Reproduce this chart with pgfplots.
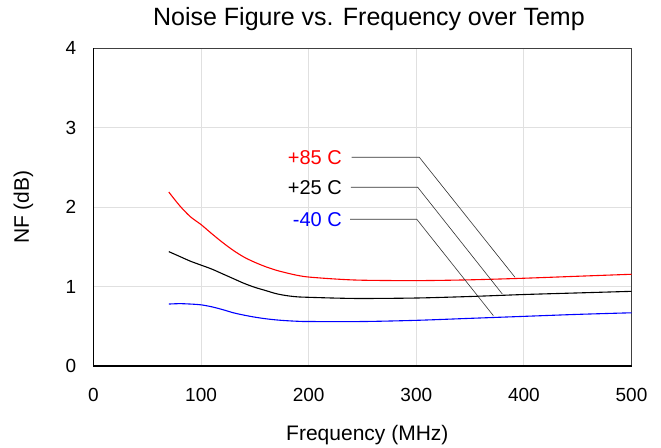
\documentclass[border=0pt]{standalone}
\usepackage{fontspec}
\setmainfont{Liberation Sans}
\usepackage{pgfplots}
\pgfplotsset{compat=1.18}
\begin{document}
\begin{tikzpicture}
\useasboundingbox (-93.5pt,-81pt) rectangle (567.5pt,366pt);
\begin{axis}[
 at={(0pt,0pt)}, anchor=south west,
 scale only axis, width=538pt, height=317.7pt,
 xmin=0,xmax=500,ymin=0,ymax=4,
 xtick={0,100,...,500}, ytick={0,1,2,3,4},
 major tick length=0pt,
 grid=major, major grid style={draw=black!12, line width=0.8pt},
 axis line style={draw=black!75, line width=1.5pt},
 tick label style={font=\fontsize{19}{22}\selectfont},
 /pgf/number format/assume math mode=true,
 xticklabel style={inner sep=0pt, anchor=north, yshift=-22pt},
 yticklabel style={inner sep=0pt, anchor=east, xshift=-17pt},
 xlabel={Frequency (MHz)},
 xlabel style={font=\fontsize{21}{24}\selectfont, at={(axis description cs:0.509,-0.217)}, anchor=center},
 ylabel={NF (dB)},
 ylabel style={font=\fontsize{21}{24}\selectfont, at={(axis description cs:-0.13,0.5)}, anchor=center},
 title={Noise Figure vs. Frequency over Temp},
 title style={font=\fontsize{25}{28}\selectfont, at={(axis description cs:0.512,1.073)}, anchor=center},
 clip=false,
]
\draw[black, line width=1.5pt] (axis description cs:0,1) -- (axis description cs:0,0) -- (axis description cs:1,0);
% +85 C
\addplot[red, line width=1.1pt, smooth] coordinates {
(70,2.19) (80,2.02) (90,1.88) (100,1.78) (110,1.665) (120,1.555) (130,1.455) (140,1.37)
(150,1.305) (160,1.25) (170,1.205) (180,1.17) (190,1.14) (200,1.12) (225,1.095) (250,1.08)
(300,1.075) (350,1.085) (400,1.105) (450,1.13) (500,1.155)};
% +25 C
\addplot[black, line width=1.1pt, smooth] coordinates {
(70,1.44) (80,1.38) (90,1.32) (100,1.27) (110,1.22) (120,1.16) (130,1.10) (140,1.04)
(150,0.99) (160,0.95) (170,0.91) (180,0.885) (190,0.87) (200,0.865) (225,0.855) (250,0.85)
(300,0.856) (350,0.875) (400,0.90) (450,0.92) (500,0.94)};
% -40 C
\addplot[blue, line width=1.1pt, smooth] coordinates {
(70,0.78) (80,0.785) (90,0.78) (100,0.77) (110,0.745) (120,0.71) (130,0.67) (140,0.64)
(150,0.615) (160,0.595) (170,0.58) (180,0.57) (190,0.563) (200,0.56) (250,0.56)
(300,0.575) (350,0.60) (400,0.625) (450,0.65) (500,0.67)};
% callouts
\addplot[black!80, line width=0.6pt] coordinates {(239.9,2.628) (302.8,2.628) (391.7,1.117)};
\addplot[black!80, line width=0.6pt] coordinates {(239.3,2.251) (301.3,2.251) (379.9,0.907)};
\addplot[black!80, line width=0.6pt] coordinates {(238.4,1.848) (300.4,1.848) (371.6,0.634)};
\node[anchor=east, inner sep=0pt, text=red, font=\fontsize{20}{23}\selectfont] at (axis cs:231,2.628) {+85 C};
\node[anchor=east, inner sep=0pt, text=black, font=\fontsize{20}{23}\selectfont] at (axis cs:231,2.251) {+25 C};
\node[anchor=east, inner sep=0pt, text=blue, font=\fontsize{20}{23}\selectfont] at (axis cs:231,1.848) {-40 C};
\end{axis}
\end{tikzpicture}
\end{document}
